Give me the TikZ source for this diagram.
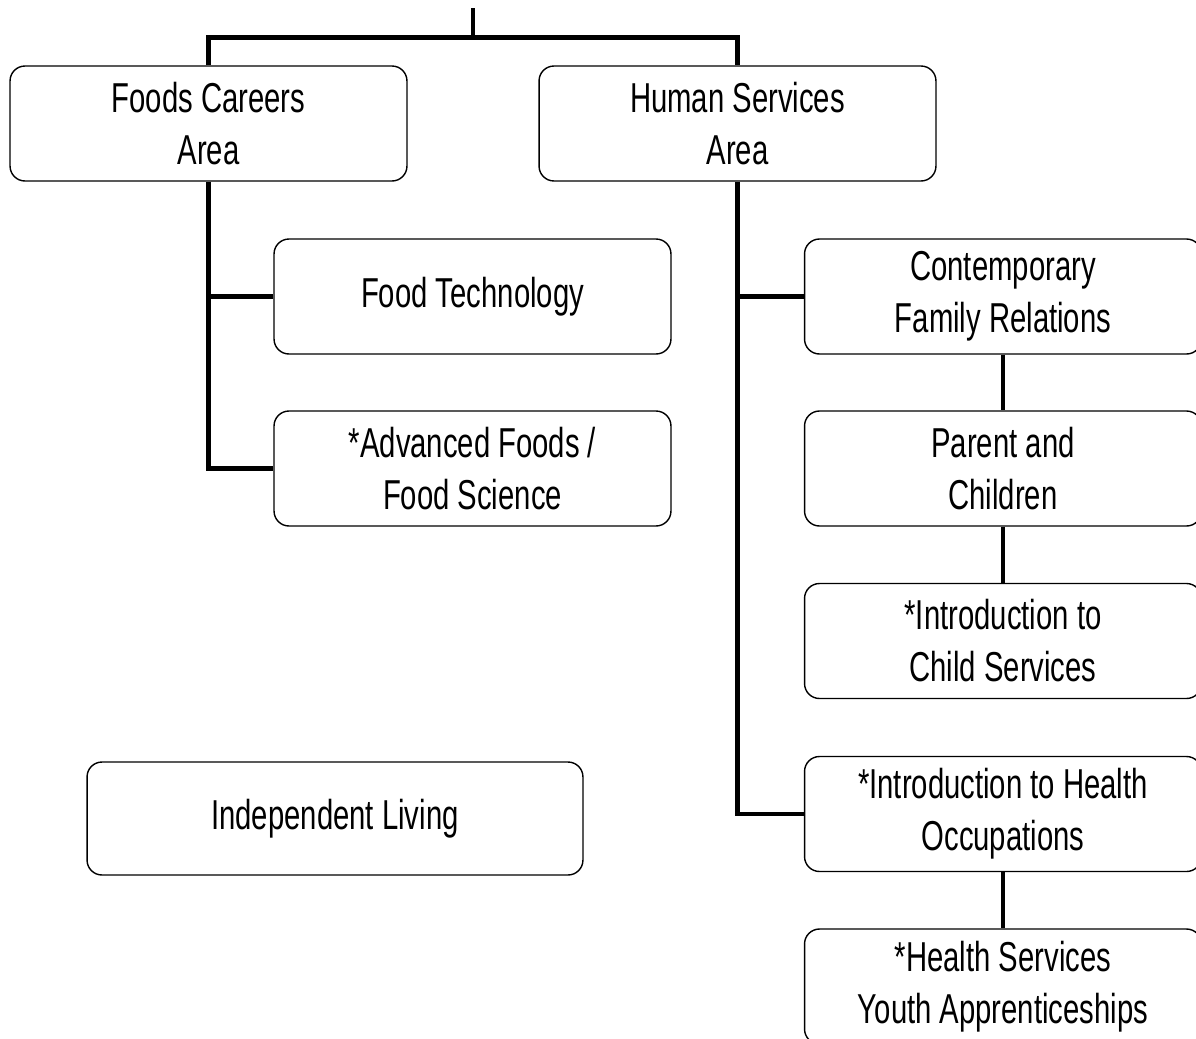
\documentclass[tikz,border=0pt]{standalone}
\usepackage{fontspec}
\setmainfont{Liberation Sans}[FakeStretch=0.7]
\usepackage{tikz}
\usetikzlibrary{positioning}

\begin{document}
\begin{tikzpicture}[x=0.02cm, y=-0.02cm,
		box/.style={draw, line width=0.8pt, rounded corners=8.5pt, align=center,
			minimum width=7.94cm, minimum height=2.3cm, inner sep=0pt,
			font=\fontsize{23.8}{29.6}\selectfont},
		link/.style={line width=2.3pt}]
		
		\clip (0,0) rectangle (1196,1038);
		\useasboundingbox (0,0) rectangle (1196,1038);
		
		\node[box] (foods) at (208.5,123.5) {Foods Careers\\Area};
		\node[box] (human) at (737.5,123.5) {Human Services\\Area};
		\node[box] (foodtech) at (472.5,296.5) {Food Technology};
		\node[box] (advfoods) at (472.5,468.5) {*Advanced Foods /\\Food Science};
		\node[box] (family) at (1003,296.5) {Contemporary\\Family Relations};
		\node[box] (parent) at (1003,468.5) {Parent and\\Children};
		\node[box] (childsvc) at (1003,641) {*Introduction to\\Child Services};
		\node[box] (healthocc) at (1003,814) {*Introduction to Health\\Occupations};
		\node[box] (youth) at (1003,986.5) {*Health Services\\Youth Apprenticeships};
		\node[box, minimum width=9.92cm, minimum height=2.26cm] (indep) at (335,818.5) {Independent Living};
		
		\coordinate (top) at (473,8);
		\coordinate (split) at (473,37.5);
		\draw[link] (top) -- (split);
		\draw[link] (foods.north) |- (split) -| (human.north);
		
		\draw[link] (foods.south) |- (advfoods.west);
		\draw[link] (foodtech.west) -- (foods.south |- foodtech.west);
		
		\draw[link] (human.south) |- (healthocc.west);
		\draw[link] (family.west) -- (human.south |- family.west);
		
		\draw[link] (family) -- (parent);
		\draw[link] (parent) -- (childsvc);
		\draw[link] (healthocc) -- (youth);
		
		\end{tikzpicture}
\end{document}
